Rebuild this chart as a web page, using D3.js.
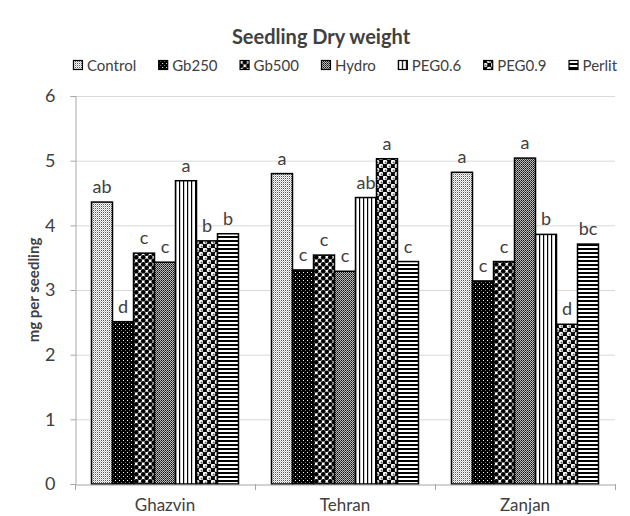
<!DOCTYPE html>
<html>
<head>
<meta charset="utf-8">
<script src="https://cdn.jsdelivr.net/npm/d3@7"></script>
<style>
  body { margin: 0; background: #fff; }
  text { font-family: Lato, "Open Sans", sans-serif; fill: #404040; }
</style>
</head>
<body>
<script>
// data
const sites = ['Ghazvin', 'Tehran', 'Zanjan'];
const treatments = ['Control', 'Gb250', 'Gb500', 'Hydro', 'PEG0.6', 'PEG0.9', 'Perlit'];
const ghazvin = [4.36, 2.51, 3.57, 3.43, 4.69, 3.76, 3.87];
const tehran  = [4.80, 3.31, 3.54, 3.29, 4.43, 5.03, 3.44];
const zanjan  = [4.82, 3.14, 3.44, 5.04, 3.86, 2.47, 3.71];
const lettersGhazvin = ['ab', 'd', 'c', 'c', 'a', 'b', 'b'];
const lettersTehran  = ['a', 'c', 'c', 'c', 'ab', 'a', 'c'];
const lettersZanjan  = ['a', 'c', 'c', 'a', 'b', 'd', 'bc'];
const yTicks = [0, 1, 2, 3, 4, 5, 6];

const values = [ghazvin, tehran, zanjan];
const letters = [lettersGhazvin, lettersTehran, lettersZanjan];

const W = 630, H = 516;
const svg = d3.select('body').append('svg')
  .attr('width', W).attr('height', H);

// patterns, one per treatment
const defs = svg.append('defs');
function pat(id, w, h, draw) {
  const p = defs.append('pattern').attr('id', id)
    .attr('patternUnits', 'userSpaceOnUse').attr('width', w).attr('height', h);
  draw(p);
}
const px = (p, x, y, c) => p.append('rect').attr('x', x).attr('y', y).attr('width', 1).attr('height', 1).attr('fill', c);

pat('p0', 2, 2, p => {   // fine light dots
  p.append('rect').attr('width', 2).attr('height', 2).attr('fill', '#fff');
  px(p, 0, 0, '#555'); px(p, 1, 1, '#bbb');
});
pat('p1', 4, 4, p => {   // black with white specks
  p.append('rect').attr('width', 4).attr('height', 4).attr('fill', '#000');
  px(p, 0, 0, '#fff'); px(p, 2, 2, '#777');
});
pat('p2', 7, 7, p => {   // black blobs on white
  p.append('rect').attr('width', 7).attr('height', 7).attr('fill', '#fff');
  [[1.75, 1.75], [5.25, 5.25], [8.75, 1.75], [-1.75, 5.25], [1.75, 8.75], [5.25, -1.75]].forEach(([cx, cy]) => {
    p.append('circle').attr('cx', cx).attr('cy', cy).attr('r', 2.3).attr('fill', '#000');
  });
});
pat('p3', 2, 2, p => {   // medium grey checker
  p.append('rect').attr('width', 2).attr('height', 2).attr('fill', '#bbb');
  px(p, 0, 0, '#111'); px(p, 1, 1, '#444');
});
pat('p4', 4, 4, p => {   // vertical lines
  p.append('rect').attr('width', 4).attr('height', 4).attr('fill', '#fff');
  p.append('rect').attr('x', 0).attr('width', 1.2).attr('height', 4).attr('fill', '#000');
});
pat('p5', 8, 8, p => {   // white circles on black
  p.append('rect').attr('width', 8).attr('height', 8).attr('fill', '#000');
  [[2, 2], [6, 6]].forEach(([cx, cy]) => {
    p.append('circle').attr('cx', cx).attr('cy', cy).attr('r', 2.3).attr('fill', '#fff');
    p.append('circle').attr('cx', cx + 0.6).attr('cy', cy + 0.6).attr('r', 1).attr('fill', '#666');
  });
});
pat('p6', 4, 4, p => {   // horizontal lines
  p.append('rect').attr('width', 4).attr('height', 4).attr('fill', '#fff');
  p.append('rect').attr('y', 0).attr('width', 4).attr('height', 2).attr('fill', '#000');
});
const fillOf = i => `url(#p${i})`;

// scales
const x0 = d3.scaleBand().domain(sites).range([75, 615]).padding(0);
const x1 = d3.scaleBand().domain(treatments).range([16.5, x0.bandwidth() - 16.5]).padding(0);
const y = d3.scaleLinear().domain([0, 6]).range([484, 96]);

// gridlines
svg.append('g').selectAll('line').data(yTicks.slice(1)).join('line')
  .attr('x1', 75).attr('x2', 615)
  .attr('y1', d => y(d) + 0.5).attr('y2', d => y(d) + 0.5)
  .attr('stroke', '#d9d9d9').attr('stroke-width', 1);

// y axis
const yAxis = svg.append('g').attr('transform', 'translate(75.5,0)')
  .call(d3.axisLeft(y).tickValues(yTicks).tickFormat(d3.format('d')).tickSize(5).tickPadding(15));
yAxis.select('.domain').attr('stroke', '#a6a6a6');
yAxis.selectAll('.tick line').attr('stroke', '#a6a6a6');
yAxis.selectAll('.tick text').style('font-size', '18px').attr('fill', '#404040');

// bars
const groups = svg.append('g').selectAll('g').data(sites).join('g')
  .attr('transform', d => `translate(${x0(d)},0)`);

groups.selectAll('rect')
  .data((s, gi) => treatments.map((t, i) => ({ t, i, v: values[gi][i], l: letters[gi][i] })))
  .join('rect')
  .attr('x', d => x1(d.t))
  .attr('y', d => y(d.v))
  .attr('width', x1.bandwidth())
  .attr('height', d => y(0) - y(d.v))
  .attr('fill', d => fillOf(d.i))
  .attr('stroke', '#000').attr('stroke-width', 1.5);

groups.selectAll('text.lbl')
  .data((s, gi) => treatments.map((t, i) => ({ t, i, v: values[gi][i], l: letters[gi][i] })))
  .join('text').attr('class', 'lbl')
  .attr('x', d => x1(d.t) + x1.bandwidth() / 2)
  .attr('y', d => y(d.v) - 9)
  .attr('text-anchor', 'middle')
  .style('font-size', '18px')
  .text(d => d.l);

// x axis
const xAxis = svg.append('g').attr('transform', 'translate(0,484.5)')
  .call(d3.axisBottom(x0).tickSize(0).tickPadding(14));
xAxis.select('.domain').attr('stroke', '#a6a6a6');
xAxis.selectAll('.tick text').style('font-size', '17px').attr('fill', '#404040');
svg.append('g').selectAll('line').data([...sites.map(s => x0(s)), 615]).join('line')
  .attr('x1', d => d + 0.5).attr('x2', d => d + 0.5)
  .attr('y1', 484).attr('y2', 490)
  .attr('stroke', '#a6a6a6');

// title
svg.append('text').attr('x', 321).attr('y', 44)
  .attr('text-anchor', 'middle')
  .style('font-size', '20px').style('font-weight', 'bold').attr('fill', '#000')
  .text('Seedling Dry weight');

// y title
svg.append('text')
  .attr('transform', 'translate(39,290) rotate(-90)')
  .attr('text-anchor', 'middle')
  .style('font-size', '15px').style('font-weight', 'bold').attr('fill', '#000')
  .text('mg per seedling');

// legend
const leg = svg.append('g');
let lx = 0;
treatments.forEach((t, i) => {
  const g = leg.append('g').attr('transform', `translate(${lx},0)`);
  g.append('rect').attr('x', 0.5).attr('y', -10.5).attr('width', 9).attr('height', 9)
    .attr('fill', fillOf(i)).attr('stroke', '#000').attr('stroke-width', 1.2);
  const tx = g.append('text').attr('x', 14).attr('y', 0)
    .style('font-size', '15px').attr('fill', '#000').text(t);
  lx += 14 + tx.node().getComputedTextLength() + 22;
});
lx -= 22;
leg.attr('transform', `translate(${345 - lx / 2},71)`);
</script>
</body>
</html>
